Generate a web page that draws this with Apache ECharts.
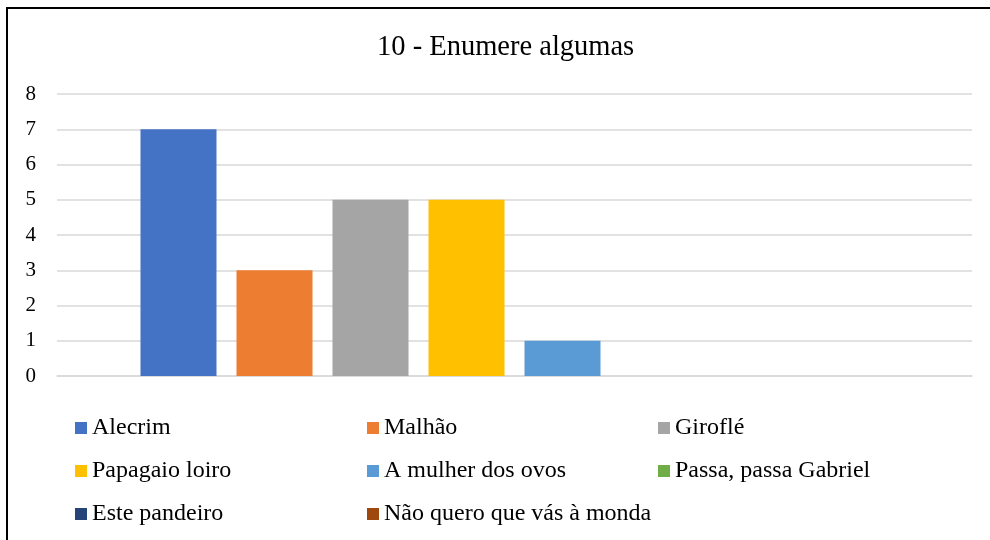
<!DOCTYPE html>
<html>
<head>
<meta charset="utf-8">
<script src="https://cdn.jsdelivr.net/npm/echarts@6/dist/echarts.min.js"></script>
<style>
  html, body { margin: 0; padding: 0; background: #fff; overflow: hidden; }
  #frame {
    position: absolute;
    left: 6px;
    top: 7px;
    width: 1000px;
    height: 560px;
    border-left: 2px solid #000;
    border-top: 2px solid #000;
  }
  #chart { position: absolute; left: 0; top: 0; width: 990px; height: 540px; }
</style>
</head>
<body>
<div id="frame"></div>
<div id="chart"></div>
<script>
const categories = ['10 - Enumere algumas']
const seriesNames = [
  'Alecrim', 'Malhão', 'Giroflé', 'Papagaio loiro',
  'A mulher dos ovos', 'Passa, passa Gabriel', 'Este pandeiro', 'Não quero que vás à monda'
]
const seriesValues = [7, 3, 5, 5, 1, 0, 0, 0]
const seriesColors = ['#4472C4', '#ED7D31', '#A5A5A5', '#FFC000', '#5B9BD5', '#70AD47', '#264478', '#9E480E']
const yTicks = [0, 1, 2, 3, 4, 5, 6, 7, 8]

const fontFamily = '"Liberation Serif", "Times New Roman", serif'
const chartInstance = echarts.init(document.getElementById('chart'))

// legend is laid out in 3 columns like the original
const columns = [[], [], []]
seriesNames.forEach((name, i) => {
  columns[i % 3].push(name)
})
const legendLefts = [70, 362, 653]
const legends = columns.map((names, i) => {
  return {
    data: names,
    orient: 'vertical',
    left: legendLefts[i],
    top: 410,
    icon: 'rect',
    itemWidth: 12,
    itemHeight: 12,
    itemGap: 17,
    selectedMode: false,
    textStyle: {
      fontFamily: fontFamily,
      fontSize: 24,
      lineHeight: 26,
      color: '#000'
    }
  }
})

const series = seriesNames.map((name, i) => {
  return {
    name: name,
    type: 'bar',
    data: [seriesValues[i]],
    itemStyle: { color: seriesColors[i] },
    barGap: '26.3%',
    barCategoryGap: '18.25%'
  }
})

const option = {
  animation: false,
  title: {
    text: categories[0],
    left: 372,
    top: 28,
    textStyle: {
      fontFamily: fontFamily,
      fontSize: 28.5,
      fontWeight: 'normal',
      color: '#000'
    }
  },
  legend: legends,
  grid: {
    left: 57,
    right: 18,
    top: 94,
    bottom: 164
  },
  xAxis: {
    type: 'category',
    data: categories,
    axisLine: { show: true, lineStyle: { color: '#d9d9d9', width: 1.5 } },
    axisTick: { show: false },
    axisLabel: { show: false }
  },
  yAxis: {
    type: 'value',
    min: yTicks[0],
    max: yTicks[yTicks.length - 1],
    interval: 1,
    axisLine: { show: false },
    axisTick: { show: false },
    axisLabel: {
      margin: 21,
      fontFamily: fontFamily,
      fontSize: 21,
      color: '#000'
    },
    splitLine: { lineStyle: { color: '#d9d9d9', width: 1.5 } }
  },
  series: series
}

chartInstance.setOption(option)
</script>
</body>
</html>
